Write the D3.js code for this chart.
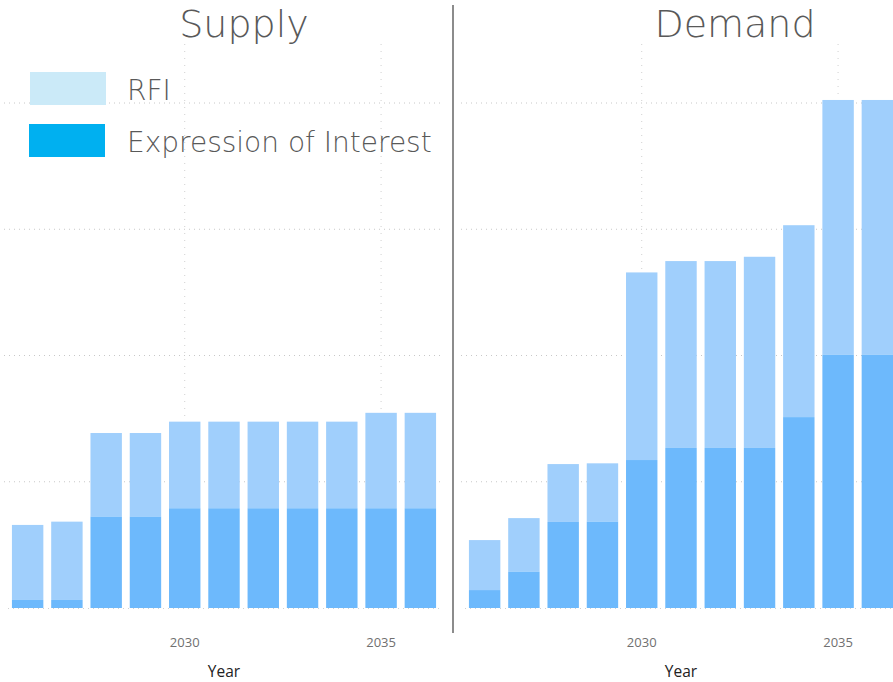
<!DOCTYPE html>
<html><head><meta charset="utf-8">
<script src="https://cdn.jsdelivr.net/npm/d3@7"></script>
<style>body{margin:0;background:#fff}svg{display:block}</style>
</head><body>
<svg id="c" width="893" height="682"></svg>
<script>
const years = [2026,2027,2028,2029,2030,2031,2032,2033,2034,2035,2036];
const supplyEOI = [0.32,0.32,3.62,3.62,3.95,3.95,3.95,3.95,3.95,3.95,3.95];
const supplyTotal = [3.29,3.42,6.93,6.93,7.38,7.38,7.38,7.38,7.38,7.73,7.73];
const demandEOI = [0.71,1.44,3.41,3.42,5.86,6.34,6.34,6.34,7.56,10.03,10.03];
const demandTotal = [2.69,3.56,5.70,5.73,13.29,13.74,13.74,13.91,15.16,20.12,20.12];
const yTicks = [0,5,10,15,20];
const xTickLabels = [2030,2035];
const seriesNames = ["RFI","Expression of Interest"];
const legendColors = ["#cbeaf8","#00b0f0"];
const barColors = {rfi:"#a0cffc", eoi:"#6db9fc"};

const svg = d3.select("#c");
const y = d3.scaleLinear().domain([0,20]).range([608,103]);

function panel(title, x0, x1, eoi, total, titleX, yearX){
  const x = d3.scaleBand().domain(years).range([x0,x1]).paddingInner(0.2).paddingOuter(0.1);
  const g = svg.append("g");
  g.selectAll(".hg").data(yTicks.slice(1)).join("line")
    .attr("x1", x0-4).attr("x2", x1+2)
    .attr("y1", d=>y(d)).attr("y2", d=>y(d))
    .attr("stroke","#c8c8c8").attr("stroke-width",1).attr("stroke-dasharray","1,4");
  g.selectAll(".vg").data(xTickLabels).join("line")
    .attr("x1", d=>x(d)+x.bandwidth()/2).attr("x2", d=>x(d)+x.bandwidth()/2)
    .attr("y1", 44).attr("y2", 608)
    .attr("stroke","#d0d0d0").attr("stroke-width",1).attr("stroke-dasharray","1,6");
  g.selectAll(".rfi").data(years).join("rect")
    .attr("x", d=>x(d)).attr("width", x.bandwidth())
    .attr("y", (d,i)=>y(total[i])).attr("height", (d,i)=>y(eoi[i])-y(total[i]))
    .attr("fill", barColors.rfi);
  g.selectAll(".eoi").data(years).join("rect")
    .attr("x", d=>x(d)).attr("width", x.bandwidth())
    .attr("y", (d,i)=>y(eoi[i])).attr("height", (d,i)=>y(0)-y(eoi[i]))
    .attr("fill", barColors.eoi);
  g.append("line").attr("x1",x0).attr("x2",x1).attr("y1",608.5).attr("y2",608.5)
    .attr("stroke","#d0d0d0").attr("stroke-dasharray","1,4");
  const ax = d3.axisBottom(x).tickValues(xTickLabels).tickSize(0).tickPadding(0);
  const axg = g.append("g").attr("transform","translate(0,643)").call(ax);
  axg.select(".domain").remove();
  axg.selectAll("text").attr("font-family","'Open Sans', 'Noto Sans', sans-serif")
    .attr("font-size",13).attr("fill","#707070").attr("dy","0.3em");
  g.append("text").attr("x", yearX).attr("y", 677).attr("text-anchor","middle")
    .attr("font-family","'Open Sans', 'Noto Sans', sans-serif").attr("font-size",15.5)
    .attr("font-weight",500).attr("fill","#222").text("Year");
  g.append("text").attr("x", titleX).attr("y", 37).attr("text-anchor","middle")
    .attr("font-family","'DejaVu Sans', sans-serif").attr("font-weight",200).attr("font-size",38)
    .attr("fill","#595959").text(title);
  return x;
}
panel("Supply", 8, 440, supplyEOI, supplyTotal, 244, 224);
panel("Demand", 465, 897, demandEOI, demandTotal, 735, 681);

svg.append("line").attr("x1",453).attr("x2",453).attr("y1",5).attr("y2",633)
  .attr("stroke","#666").attr("stroke-width",1.5);

const lg = svg.append("g");
seriesNames.forEach((n,i)=>{
  lg.append("rect").attr("x",30-i).attr("y",72+i*52).attr("width",76).attr("height",33).attr("fill",legendColors[i]);
  lg.append("text").attr("x",127).attr("y",100+i*52).attr("font-family","'DejaVu Sans', sans-serif")
    .attr("font-weight",200).attr("font-size",28).attr("fill","#595959").text(n);
});
</script>
</body></html>
